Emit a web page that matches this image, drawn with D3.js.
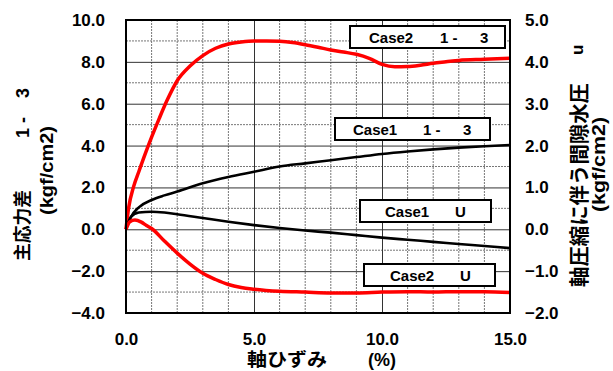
<!DOCTYPE html>
<html>
<head>
<meta charset="utf-8">
<script src="https://cdn.jsdelivr.net/npm/d3@7"></script>
<style>
  body { margin: 0; background: #fff; }
  svg { display: block; }
  text { font-family: "Liberation Sans", Arial, sans-serif; font-weight: bold; fill: #000; }
  .jp { font-family: "Noto Sans CJK JP", "Liberation Sans", sans-serif; font-weight: bold; }
</style>
</head>
<body>
<div id="chart"></div>
<script>
// axial strain (%) and measured values
var case2StressX = [0, 0.1, 0.3, 0.5, 0.75, 1.0, 1.3, 1.6, 2.0, 2.5, 3.0, 3.5, 4.0, 4.5, 5.0, 5.5, 6.0, 6.5, 7.0, 7.5, 8.0, 8.5, 9.0, 9.5, 10.0, 10.5, 11.0, 11.5, 12.0, 12.5, 13.0, 14.0, 15.0];
var case2StressY = [0, 1.0, 2.05, 2.75, 3.6, 4.4, 5.3, 6.15, 7.1, 7.8, 8.3, 8.65, 8.85, 8.95, 9.0, 9.0, 8.98, 8.92, 8.82, 8.7, 8.57, 8.47, 8.36, 8.17, 7.88, 7.77, 7.78, 7.84, 7.93, 8.0, 8.07, 8.12, 8.17];

var case1StressX = [0, 0.2, 0.5, 1.0, 1.5, 2.0, 3.0, 4.0, 5.0, 6.0, 7.0, 8.0, 9.0, 10.0, 11.0, 12.0, 13.0, 14.0, 15.0];
var case1StressY = [0, 0.6, 1.05, 1.4, 1.62, 1.8, 2.2, 2.5, 2.75, 3.0, 3.15, 3.3, 3.45, 3.6, 3.72, 3.82, 3.9, 3.97, 4.03];

// pore water pressure (right axis)
var case1PoreX = [0, 0.2, 0.5, 1.0, 1.5, 2.0, 3.0, 4.0, 5.0, 6.0, 7.0, 8.0, 9.0, 10.0, 11.0, 12.0, 13.0, 14.0, 15.0];
var case1PoreY = [0, 0.3, 0.4, 0.42, 0.4, 0.36, 0.27, 0.18, 0.1, 0.03, -0.03, -0.08, -0.14, -0.2, -0.25, -0.3, -0.35, -0.4, -0.45];

var case2PoreX = [0, 0.15, 0.35, 0.6, 0.8, 1.0, 1.5, 2.0, 2.5, 3.0, 3.5, 4.0, 4.5, 5.0, 6.0, 7.0, 8.0, 9.0, 10.0, 11.0, 12.0, 13.0, 14.0, 15.0];
var case2PoreY = [0, 0.18, 0.22, 0.17, 0.09, 0.02, -0.28, -0.57, -0.83, -1.05, -1.2, -1.32, -1.39, -1.43, -1.48, -1.5, -1.52, -1.52, -1.5, -1.49, -1.5, -1.49, -1.49, -1.51];

var xTicks = [0, 5, 10, 15];
var leftTicks = [-4, -2, 0, 2, 4, 6, 8, 10];
var rightTicks = [-2, -1, 0, 1, 2, 3, 4, 5];
var legendCase = ["Case2", "Case1", "Case1", "Case2"];
var legendSym = [["1 -", "3"], ["1 -", "3"], ["U"], ["U"]];

var margin = { top: 20, right: 103, bottom: 58, left: 126 },
  width = 613 - margin.left - margin.right,
  height = 371 - margin.top - margin.bottom;

var svg = d3.select("#chart").append("svg")
  .attr("width", 613)
  .attr("height", 371);

var g = svg.append("g")
  .attr("transform", "translate(" + margin.left + "," + margin.top + ")");

var x = d3.scaleLinear().domain([0, 15]).range([0, width]);
var yL = d3.scaleLinear().domain([-4, 10]).range([height, 0]);
var yR = d3.scaleLinear().domain([-2, 5]).range([height, 0]);

// minor grid (dotted) every 1 unit, major grid (solid) on labelled values
g.append("g").selectAll("line")
  .data(d3.range(1, 15).filter(function (d) { return d % 5 != 0; }))
  .enter().append("line")
  .attr("x1", function (d) { return x(d); }).attr("x2", function (d) { return x(d); })
  .attr("y1", 0).attr("y2", height)
  .attr("stroke", "#777").attr("stroke-width", 1).attr("stroke-dasharray", "2,1");
g.append("g").selectAll("line")
  .data(d3.range(-3, 10, 2))
  .enter().append("line")
  .attr("x1", 0).attr("x2", width)
  .attr("y1", function (d) { return yL(d); }).attr("y2", function (d) { return yL(d); })
  .attr("stroke", "#777").attr("stroke-width", 1).attr("stroke-dasharray", "2,1");

g.append("g")
  .attr("transform", "translate(0," + height + ")")
  .call(d3.axisBottom(x).tickValues([5, 10]).tickSize(-height).tickFormat(""))
  .call(function (a) { a.select(".domain").remove(); })
  .selectAll("line").attr("stroke", "#333");
g.append("g")
  .call(d3.axisLeft(yL).tickValues([-2, 0, 2, 4, 6, 8]).tickSize(-width).tickFormat(""))
  .call(function (a) { a.select(".domain").remove(); })
  .selectAll("line").attr("stroke", "#333");

// tick labels
g.append("g")
  .attr("transform", "translate(0," + height + ")")
  .call(d3.axisBottom(x).tickValues(xTicks).tickSize(0).tickPadding(20).tickFormat(d3.format(".1f")))
  .call(function (a) { a.select(".domain").remove(); })
  .selectAll("text").style("font-size", "17px").attr("font-family", null);
g.append("g")
  .call(d3.axisLeft(yL).tickValues(leftTicks).tickSize(0).tickPadding(21).tickFormat(d3.format(".1f")))
  .call(function (a) { a.select(".domain").remove(); })
  .selectAll("text").style("font-size", "17px").attr("font-family", null);
g.append("g")
  .attr("transform", "translate(" + width + ",0)")
  .call(d3.axisRight(yR).tickValues(rightTicks).tickSize(0).tickPadding(15).tickFormat(d3.format(".1f")))
  .call(function (a) { a.select(".domain").remove(); })
  .selectAll("text").style("font-size", "17px").attr("font-family", null);

// data lines
var series = [
  { xs: case2StressX, ys: case2StressY, y: yL, color: "#ff0000", w: 3.5 },
  { xs: case1StressX, ys: case1StressY, y: yL, color: "#000", w: 2.6 },
  { xs: case1PoreX, ys: case1PoreY, y: yR, color: "#000", w: 2.6 },
  { xs: case2PoreX, ys: case2PoreY, y: yR, color: "#ff0000", w: 3.5 }
];
series.forEach(function (s) {
  var line = d3.line()
    .x(function (d, i) { return x(s.xs[i]); })
    .y(function (d) { return s.y(d); })
    .curve(d3.curveMonotoneX);
  g.append("path")
    .datum(s.ys)
    .attr("fill", "none")
    .attr("stroke", s.color)
    .attr("stroke-width", s.w)
    .attr("d", line);
});

// frame
g.append("rect")
  .attr("width", width).attr("height", height)
  .attr("fill", "none").attr("stroke", "#000").attr("stroke-width", 2);

// legend boxes
var boxes = [
  { x: 350, y: 26, w: 155, h: 22, tx: [369, 440, 480] },
  { x: 335, y: 118, w: 155, h: 22, tx: [353, 423, 463] },
  { x: 360, y: 200, w: 131, h: 22, tx: [385, 455] },
  { x: 364, y: 264, w: 131, h: 22, tx: [390, 460] }
];
boxes.forEach(function (b, i) {
  svg.append("rect")
    .attr("x", b.x).attr("y", b.y).attr("width", b.w).attr("height", b.h)
    .attr("fill", "#fff").attr("stroke", "#000").attr("stroke-width", 2);
  var parts = [legendCase[i]].concat(legendSym[i]);
  parts.forEach(function (p, j) {
    svg.append("text")
      .attr("x", b.tx[j]).attr("y", b.y + 16.5)
      .style("font-size", "15px")
      .text(p);
  });
});

// vertical (rotated) titles
function vText(cls, x0, y0, size, txt, len) {
  var t = svg.append("text")
    .attr("class", cls)
    .attr("transform", "translate(" + x0 + "," + y0 + ") rotate(-90)")
    .style("font-size", size + "px")
    .text(txt);
  if (len) t.attr("textLength", len).attr("lengthAdjust", "spacingAndGlyphs");
  return t;
}
vText("jp", 29, 261, 18, "主応力差", 71);
vText("", 29, 138, 18, "1 -");
vText("", 29, 98, 18, "3");
vText("", 53, 215, 18, "(kgf/cm2)", 89);

vText("jp", 587, 287, 20, "軸圧縮に伴う間隙水圧", 204);
vText("", 583, 55, 17, "u");
vText("", 605, 212, 18, "(kgf/cm2)", 95);

// x axis title
svg.append("text").attr("class", "jp")
  .attr("x", 247).attr("y", 366)
  .style("font-size", "18px")
  .attr("textLength", 80).attr("lengthAdjust", "spacingAndGlyphs")
  .text("軸ひずみ");
svg.append("text")
  .attr("x", 368).attr("y", 366)
  .style("font-size", "18px")
  .text("(%)");
</script>
</body>
</html>
